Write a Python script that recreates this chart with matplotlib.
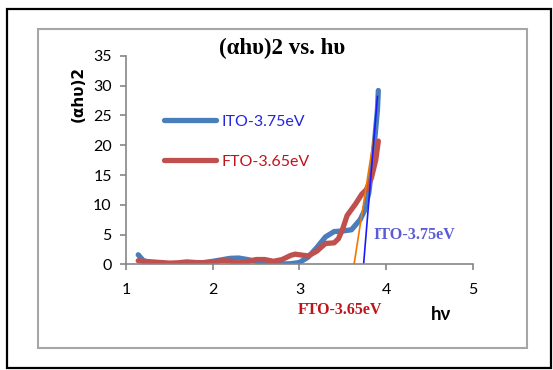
import matplotlib.pyplot as plt
from matplotlib.patches import Rectangle

# data
hv_ito = [1.14, 1.2, 1.3, 1.4, 1.5, 1.6, 1.7, 1.8, 1.9, 2.0, 2.1, 2.2, 2.3, 2.4, 2.5,
          2.6, 2.7, 2.8, 2.9, 3.0, 3.1, 3.2, 3.3, 3.4, 3.5, 3.6, 3.7, 3.75, 3.8, 3.85,
          3.9, 3.91]
ah_ito = [1.6, 0.6, 0.25, 0.1, 0.05, 0.1, 0.15, 0.2, 0.3, 0.5, 0.75, 1.0, 1.05, 0.8, 0.5,
          0.25, 0.1, 0.05, 0.1, 0.3, 1.2, 2.8, 4.6, 5.5, 5.6, 5.8, 7.5, 9.0, 12.0, 18.0,
          26.0, 29.2]

hv_fto = [1.14, 1.2, 1.3, 1.4, 1.5, 1.6, 1.7, 1.8, 1.9, 2.0, 2.1, 2.2, 2.3, 2.4, 2.5,
          2.6, 2.7, 2.8, 2.9, 2.95, 3.0, 3.1, 3.2, 3.3, 3.4, 3.45, 3.5, 3.55, 3.65, 3.72,
          3.77, 3.83, 3.88, 3.91]
ah_fto = [0.6, 0.5, 0.4, 0.3, 0.2, 0.25, 0.4, 0.3, 0.25, 0.35, 0.6, 0.55, 0.2, 0.45, 0.8,
          0.8, 0.5, 0.8, 1.5, 1.7, 1.6, 1.4, 2.2, 3.5, 3.6, 4.3, 6.0, 8.2, 10.2, 11.8,
          12.5, 14.5, 17.5, 20.7]

# tangent lines
fit_ito_x = [3.74, 3.90]
fit_ito_y = [0, 28.2]
fit_fto_x = [3.63, 3.855]
fit_fto_y = [0, 21.0]

labels = ["ITO-3.75eV", "FTO-3.65eV"]

fig = plt.figure(figsize=(5.53, 3.70), dpi=100)
ax = fig.add_axes([0.228, 0.2857, 0.627, 0.563])

ax.plot(hv_ito, ah_ito, color="#4a7ebb", lw=3.8, solid_capstyle="round", label=labels[0])
ax.plot(hv_fto, ah_fto, color="#c0504d", lw=3.8, solid_capstyle="round", label=labels[1])
ax.plot(fit_fto_x, fit_fto_y, color="#f07800", lw=1.2)
ax.plot(fit_ito_x, fit_ito_y, color="#1a1aff", lw=1.2)

ax.set_xlim(1, 5)
ax.set_ylim(0, 35)
ax.set_xticks([1, 2, 3, 4, 5])
ax.set_yticks(range(0, 36, 5))
for s in ["top", "right"]:
    ax.spines[s].set_visible(False)
for s in ["left", "bottom"]:
    ax.spines[s].set_color("#868686")
    ax.spines[s].set_linewidth(1.2)
ax.tick_params(direction="out", length=4.3, width=1.2, color="#868686",
               labelsize=11.5)
ax.tick_params(axis="y", pad=6)
ax.tick_params(axis="x", pad=9)
for t in ax.get_xticklabels() + ax.get_yticklabels():
    t.set_fontfamily("Lato")

fig.text(0.51, 0.870, "(αhυ)2 vs. hυ", family="Liberation Serif", weight="bold",
         fontsize=16.5, ha="center", va="center")
fig.text(0.141, 0.746, "(αhυ)2", family="DejaVu Sans", weight="bold", fontsize=11,
         rotation=90, ha="center", va="center")
fig.text(0.798, 0.150, "hν", family="Lato", weight="bold", fontsize=13.5,
         ha="center", va="center")
fig.text(0.676, 0.365, "ITO-3.75eV", family="Liberation Serif", weight="bold",
         fontsize=11.6, color="#5b5bd6", ha="left", va="center")
fig.text(0.538, 0.162, "FTO-3.65eV", family="Liberation Serif", weight="bold",
         fontsize=11.5, color="#c0141b", ha="left", va="center")

leg = ax.legend(loc="upper left", bbox_to_anchor=(0.296, 0.690),
                bbox_transform=fig.transFigure, frameon=False,
                prop={"family": "Lato", "size": 11.5}, handlelength=3.3,
                handletextpad=0.3, labelspacing=1.62,
                labelcolor=["#2626d9", "#c0141b"], borderpad=0, borderaxespad=0)

fig.patches.append(Rectangle((0.069, 0.059), 0.884, 0.862, transform=fig.transFigure,
                             fill=False, edgecolor="#a6a6a6", lw=1.5))
fig.patches.append(Rectangle((0.012, 0.005), 0.985, 0.97, transform=fig.transFigure,
                             fill=False, edgecolor="black", lw=1.6))

fig.savefig("out.png", dpi=100)
